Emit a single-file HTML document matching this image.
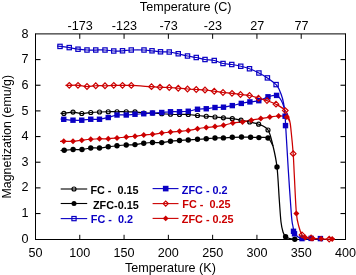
<!DOCTYPE html>
<html><head><meta charset="utf-8"><style>
html,body{margin:0;padding:0;background:#fff;width:356px;height:275px;overflow:hidden}
svg{display:block;will-change:transform}
</style></head><body>
<svg width="356" height="275" viewBox="0 0 356 275">
<rect width="356" height="275" fill="#fff"/>
<path d="M35.5,33.9 H345.5 M345.5,33.4 V240 M345.9,239.5 H35 M35.5,240 V33.4" fill="none" stroke="#000" stroke-width="1"/>
<line x1="79.78" y1="239.5" x2="79.78" y2="234.8" stroke="#000" stroke-width="1"/>
<line x1="79.78" y1="33.9" x2="79.78" y2="38.8" stroke="#000" stroke-width="1"/>
<line x1="124.07" y1="239.5" x2="124.07" y2="234.8" stroke="#000" stroke-width="1"/>
<line x1="124.07" y1="33.9" x2="124.07" y2="38.8" stroke="#000" stroke-width="1"/>
<line x1="168.36" y1="239.5" x2="168.36" y2="234.8" stroke="#000" stroke-width="1"/>
<line x1="168.36" y1="33.9" x2="168.36" y2="38.8" stroke="#000" stroke-width="1"/>
<line x1="212.64" y1="239.5" x2="212.64" y2="234.8" stroke="#000" stroke-width="1"/>
<line x1="212.64" y1="33.9" x2="212.64" y2="38.8" stroke="#000" stroke-width="1"/>
<line x1="256.93" y1="239.5" x2="256.93" y2="234.8" stroke="#000" stroke-width="1"/>
<line x1="256.93" y1="33.9" x2="256.93" y2="38.8" stroke="#000" stroke-width="1"/>
<line x1="301.21" y1="239.5" x2="301.21" y2="234.8" stroke="#000" stroke-width="1"/>
<line x1="301.21" y1="33.9" x2="301.21" y2="38.8" stroke="#000" stroke-width="1"/>
<line x1="35.5" y1="213.54" x2="40.5" y2="213.54" stroke="#000" stroke-width="1.1"/>
<line x1="345.5" y1="213.54" x2="340.5" y2="213.54" stroke="#000" stroke-width="1.1"/>
<line x1="35.5" y1="187.88" x2="40.5" y2="187.88" stroke="#000" stroke-width="1.1"/>
<line x1="345.5" y1="187.88" x2="340.5" y2="187.88" stroke="#000" stroke-width="1.1"/>
<line x1="35.5" y1="162.22" x2="40.5" y2="162.22" stroke="#000" stroke-width="1.1"/>
<line x1="345.5" y1="162.22" x2="340.5" y2="162.22" stroke="#000" stroke-width="1.1"/>
<line x1="35.5" y1="136.56" x2="40.5" y2="136.56" stroke="#000" stroke-width="1.1"/>
<line x1="345.5" y1="136.56" x2="340.5" y2="136.56" stroke="#000" stroke-width="1.1"/>
<line x1="35.5" y1="110.90" x2="40.5" y2="110.90" stroke="#000" stroke-width="1.1"/>
<line x1="345.5" y1="110.90" x2="340.5" y2="110.90" stroke="#000" stroke-width="1.1"/>
<line x1="35.5" y1="85.24" x2="40.5" y2="85.24" stroke="#000" stroke-width="1.1"/>
<line x1="345.5" y1="85.24" x2="340.5" y2="85.24" stroke="#000" stroke-width="1.1"/>
<line x1="35.5" y1="59.58" x2="40.5" y2="59.58" stroke="#000" stroke-width="1.1"/>
<line x1="345.5" y1="59.58" x2="340.5" y2="59.58" stroke="#000" stroke-width="1.1"/>
<text x="28.6" y="242.80" text-anchor="end" font-size="12.6" font-family="Liberation Sans, sans-serif">0</text>
<text x="28.6" y="217.14" text-anchor="end" font-size="12.6" font-family="Liberation Sans, sans-serif">1</text>
<text x="28.6" y="191.48" text-anchor="end" font-size="12.6" font-family="Liberation Sans, sans-serif">2</text>
<text x="28.6" y="165.82" text-anchor="end" font-size="12.6" font-family="Liberation Sans, sans-serif">3</text>
<text x="28.6" y="140.16" text-anchor="end" font-size="12.6" font-family="Liberation Sans, sans-serif">4</text>
<text x="28.6" y="114.50" text-anchor="end" font-size="12.6" font-family="Liberation Sans, sans-serif">5</text>
<text x="28.6" y="88.84" text-anchor="end" font-size="12.6" font-family="Liberation Sans, sans-serif">6</text>
<text x="28.6" y="63.18" text-anchor="end" font-size="12.6" font-family="Liberation Sans, sans-serif">7</text>
<text x="28.6" y="37.52" text-anchor="end" font-size="12.6" font-family="Liberation Sans, sans-serif">8</text>
<text x="35.50" y="256.7" text-anchor="middle" font-size="12.6" font-family="Liberation Sans, sans-serif">50</text>
<text x="79.78" y="256.7" text-anchor="middle" font-size="12.6" font-family="Liberation Sans, sans-serif">100</text>
<text x="124.07" y="256.7" text-anchor="middle" font-size="12.6" font-family="Liberation Sans, sans-serif">150</text>
<text x="168.36" y="256.7" text-anchor="middle" font-size="12.6" font-family="Liberation Sans, sans-serif">200</text>
<text x="212.64" y="256.7" text-anchor="middle" font-size="12.6" font-family="Liberation Sans, sans-serif">250</text>
<text x="256.93" y="256.7" text-anchor="middle" font-size="12.6" font-family="Liberation Sans, sans-serif">300</text>
<text x="301.21" y="256.7" text-anchor="middle" font-size="12.6" font-family="Liberation Sans, sans-serif">350</text>
<text x="345.50" y="256.7" text-anchor="middle" font-size="12.6" font-family="Liberation Sans, sans-serif">400</text>
<text x="80.08" y="30.3" text-anchor="middle" font-size="12.6" font-family="Liberation Sans, sans-serif">-173</text>
<text x="124.37" y="30.3" text-anchor="middle" font-size="12.6" font-family="Liberation Sans, sans-serif">-123</text>
<text x="168.66" y="30.3" text-anchor="middle" font-size="12.6" font-family="Liberation Sans, sans-serif">-73</text>
<text x="212.94" y="30.3" text-anchor="middle" font-size="12.6" font-family="Liberation Sans, sans-serif">-23</text>
<text x="257.23" y="30.3" text-anchor="middle" font-size="12.6" font-family="Liberation Sans, sans-serif">27</text>
<text x="301.51" y="30.3" text-anchor="middle" font-size="12.6" font-family="Liberation Sans, sans-serif">77</text>
<text x="185.7" y="10.6" text-anchor="middle" font-size="12.6" font-family="Liberation Sans, sans-serif">Temperature (C)</text>
<text x="170.4" y="271.8" text-anchor="middle" font-size="12.6" font-family="Liberation Sans, sans-serif">Temperature (K)</text>
<text transform="translate(10.9,136.7) rotate(-90)" x="0" y="0" text-anchor="middle" font-size="12.45" font-family="Liberation Sans, sans-serif">Magnetization (emu/g)</text>
<path d="M60.50,113.30 C61.07,113.32 61.82,113.60 63.90,113.40 C65.98,113.20 70.02,112.08 73.00,112.10 C75.98,112.12 78.84,113.43 81.80,113.50 C84.76,113.57 87.80,112.75 90.75,112.50 C93.70,112.25 96.58,112.12 99.50,112.00 C102.42,111.88 105.33,111.79 108.25,111.75 C111.17,111.71 114.00,111.75 117.00,111.75 C120.00,111.75 123.25,111.72 126.25,111.75 C129.25,111.78 132.08,111.69 135.00,111.90 C137.92,112.11 140.83,112.82 143.75,113.00 C146.67,113.18 149.50,112.88 152.50,113.00 C155.50,113.12 158.75,113.54 161.75,113.75 C164.75,113.96 167.54,114.12 170.50,114.25 C173.46,114.38 176.54,114.46 179.50,114.50 C182.46,114.54 185.25,114.33 188.25,114.50 C191.25,114.67 194.50,115.21 197.50,115.50 C200.50,115.79 203.33,116.00 206.25,116.25 C209.17,116.50 212.14,116.74 215.00,117.00 C217.86,117.26 220.52,117.52 223.40,117.80 C226.28,118.08 229.37,118.30 232.30,118.70 C235.23,119.10 238.10,119.65 241.00,120.20 C243.90,120.75 246.77,121.33 249.70,122.00 C252.63,122.67 255.55,122.87 258.60,124.20 C261.65,125.53 265.60,126.37 268.00,130.00 C270.40,133.63 271.50,139.83 273.00,146.00 C274.50,152.17 275.95,158.00 277.00,167.00 C278.05,176.00 278.63,190.83 279.30,200.00 C279.97,209.17 280.38,216.67 281.00,222.00 C281.62,227.33 282.23,229.55 283.00,232.00 C283.77,234.45 284.43,235.60 285.60,236.70 C286.77,237.80 288.47,238.18 290.00,238.60 C291.53,239.02 294.00,239.10 294.80,239.20" fill="none" stroke="#000000" stroke-width="1.25"/>
<path d="M60.50,150.50 C61.12,150.45 62.10,150.37 64.20,150.20 C66.30,150.03 70.13,149.62 73.10,149.50 C76.07,149.38 79.06,149.75 82.00,149.50 C84.94,149.25 87.83,148.25 90.75,148.00 C93.67,147.75 96.58,148.21 99.50,148.00 C102.42,147.79 105.33,147.12 108.25,146.75 C111.17,146.38 114.00,146.04 117.00,145.75 C120.00,145.46 123.25,145.19 126.25,145.00 C129.25,144.81 132.08,144.89 135.00,144.60 C137.92,144.31 140.83,143.60 143.75,143.25 C146.67,142.90 149.50,142.61 152.50,142.50 C155.50,142.39 158.75,142.81 161.75,142.60 C164.75,142.39 167.54,141.60 170.50,141.25 C173.46,140.90 176.54,140.71 179.50,140.50 C182.46,140.29 185.25,140.21 188.25,140.00 C191.25,139.79 194.50,139.46 197.50,139.25 C200.50,139.04 203.33,138.96 206.25,138.75 C209.17,138.54 212.14,138.14 215.00,138.00 C217.86,137.86 220.52,138.02 223.40,137.90 C226.28,137.78 229.28,137.45 232.30,137.30 C235.32,137.15 238.45,137.00 241.50,137.00 C244.55,137.00 247.70,137.20 250.60,137.30 C253.50,137.40 256.00,137.48 258.90,137.60 C261.80,137.72 265.65,136.60 268.00,138.00 C270.35,139.40 272.17,144.67 273.00,146.00" fill="none" stroke="#000000" stroke-width="1.25"/>
<path d="M57.00,46.00 C57.50,46.07 57.96,46.13 60.00,46.40 C62.04,46.67 66.25,47.13 69.25,47.60 C72.25,48.07 75.04,48.80 78.00,49.20 C80.96,49.60 84.04,49.87 87.00,50.00 C89.96,50.13 92.75,50.00 95.75,50.00 C98.75,50.00 102.00,49.83 105.00,50.00 C108.00,50.17 110.83,50.87 113.75,51.00 C116.67,51.13 119.58,50.97 122.50,50.80 C125.42,50.63 127.67,50.13 131.25,50.00 C134.83,49.87 140.54,49.87 144.00,50.00 C147.46,50.13 149.25,50.50 152.00,50.80 C154.75,51.10 157.62,51.60 160.50,51.80 C163.38,52.00 166.29,51.67 169.25,52.00 C172.21,52.33 175.21,53.08 178.25,53.75 C181.29,54.42 184.50,55.38 187.50,56.00 C190.50,56.62 193.33,56.92 196.25,57.50 C199.17,58.08 202.00,59.00 205.00,59.50 C208.00,60.00 211.25,59.83 214.25,60.50 C217.25,61.17 220.08,62.83 223.00,63.50 C225.92,64.17 228.79,64.04 231.75,64.50 C234.71,64.96 237.79,65.54 240.75,66.25 C243.71,66.96 246.47,67.62 249.50,68.75 C252.53,69.88 255.92,71.47 258.90,73.00 C261.88,74.53 264.53,75.97 267.40,77.90 C270.27,79.83 274.08,82.55 276.10,84.60 C278.12,86.65 278.43,87.88 279.50,90.20 C280.57,92.52 281.70,95.57 282.50,98.50 C283.30,101.43 283.85,104.55 284.30,107.80 C284.75,111.05 284.88,113.47 285.20,118.00 C285.52,122.53 285.68,126.33 286.20,135.00 C286.72,143.67 287.43,156.67 288.30,170.00 C289.17,183.33 290.63,205.67 291.40,215.00 C292.17,224.33 292.38,223.08 292.90,226.00 C293.42,228.92 293.65,230.67 294.50,232.50 C295.35,234.33 296.75,235.98 298.00,237.00 C299.25,238.02 299.83,238.30 302.00,238.60 C304.17,238.90 307.92,238.77 311.00,238.80 C314.08,238.83 318.92,238.80 320.50,238.80" fill="none" stroke="#0a00c4" stroke-width="1.25"/>
<path d="M60.50,119.00 C61.04,119.05 61.67,119.10 63.75,119.30 C65.83,119.50 70.00,120.05 73.00,120.20 C76.00,120.35 78.79,120.36 81.75,120.20 C84.71,120.04 87.79,119.41 90.75,119.25 C93.71,119.09 96.58,119.54 99.50,119.25 C102.42,118.96 105.33,118.21 108.25,117.50 C111.17,116.79 114.00,115.42 117.00,115.00 C120.00,114.58 123.25,115.12 126.25,115.00 C129.25,114.88 132.08,114.46 135.00,114.25 C137.92,114.04 140.83,113.96 143.75,113.75 C146.67,113.54 149.50,113.21 152.50,113.00 C155.50,112.79 158.75,112.71 161.75,112.50 C164.75,112.29 167.54,111.88 170.50,111.75 C173.46,111.62 176.54,111.83 179.50,111.75 C182.46,111.67 185.25,111.67 188.25,111.25 C191.25,110.83 194.50,109.67 197.50,109.25 C200.50,108.83 203.33,109.04 206.25,108.75 C209.17,108.46 212.12,107.76 215.00,107.50 C217.88,107.24 220.62,107.52 223.50,107.20 C226.38,106.88 229.33,106.23 232.30,105.60 C235.27,104.97 238.37,104.02 241.30,103.40 C244.23,102.78 246.98,102.35 249.90,101.90 C252.82,101.45 255.78,101.55 258.80,100.70 C261.82,99.85 265.03,97.68 268.00,96.80 C270.97,95.92 274.43,94.87 276.60,95.40 C278.77,95.93 279.72,97.93 281.00,100.00 C282.28,102.07 283.75,106.50 284.30,107.80" fill="none" stroke="#0a00c4" stroke-width="1.25"/>
<path d="M65.50,85.30 C66.12,85.30 67.17,85.30 69.25,85.30 C71.33,85.30 75.04,85.10 78.00,85.30 C80.96,85.50 84.04,86.42 87.00,86.50 C89.96,86.58 92.75,85.88 95.75,85.75 C98.75,85.62 102.00,85.83 105.00,85.75 C108.00,85.67 110.83,85.38 113.75,85.30 C116.67,85.22 119.58,85.28 122.50,85.30 C125.42,85.32 126.47,85.17 131.30,85.40 C136.13,85.63 146.72,86.40 151.50,86.70 C156.28,87.00 157.04,87.07 160.00,87.20 C162.96,87.33 166.21,87.33 169.25,87.50 C172.29,87.67 175.21,88.00 178.25,88.25 C181.29,88.50 184.50,88.79 187.50,89.00 C190.50,89.21 193.33,89.33 196.25,89.50 C199.17,89.67 202.00,89.71 205.00,90.00 C208.00,90.29 211.25,90.83 214.25,91.25 C217.25,91.67 220.04,92.16 223.00,92.50 C225.96,92.84 229.08,92.97 232.00,93.30 C234.92,93.63 237.58,94.13 240.50,94.50 C243.42,94.87 246.50,94.88 249.50,95.50 C252.50,96.12 255.58,97.35 258.50,98.20 C261.42,99.05 264.08,99.60 267.00,100.60 C269.92,101.60 272.95,102.53 276.00,104.20 C279.05,105.87 283.03,107.88 285.30,110.60 C287.57,113.32 288.62,116.93 289.60,120.50 C290.58,124.07 290.60,126.47 291.20,132.00 C291.80,137.53 292.68,146.53 293.20,153.70 C293.72,160.87 293.77,165.05 294.30,175.00 C294.83,184.95 295.62,204.73 296.40,213.40 C297.18,222.07 298.07,223.42 299.00,227.00 C299.93,230.58 300.92,233.20 302.00,234.90 C303.08,236.60 303.98,236.65 305.50,237.20 C307.02,237.75 308.60,237.93 311.10,238.20 C313.60,238.47 317.48,238.65 320.50,238.80 C323.52,238.95 326.83,239.03 329.20,239.10 C331.57,239.17 333.78,239.18 334.70,239.20" fill="none" stroke="#cc0000" stroke-width="1.25"/>
<path d="M60.00,141.50 C60.62,141.47 61.58,141.33 63.75,141.30 C65.92,141.27 70.00,141.48 73.00,141.30 C76.00,141.12 78.79,140.54 81.75,140.20 C84.71,139.86 87.79,139.49 90.75,139.25 C93.71,139.01 96.58,138.83 99.50,138.75 C102.42,138.67 105.33,138.88 108.25,138.75 C111.17,138.62 114.00,138.29 117.00,138.00 C120.00,137.71 123.25,137.29 126.25,137.00 C129.25,136.71 132.08,136.58 135.00,136.25 C137.92,135.92 140.83,135.33 143.75,135.00 C146.67,134.67 149.50,134.58 152.50,134.25 C155.50,133.92 158.75,133.38 161.75,133.00 C164.75,132.62 167.54,132.29 170.50,132.00 C173.46,131.71 176.54,131.50 179.50,131.25 C182.46,131.00 185.25,130.92 188.25,130.50 C191.25,130.08 194.50,129.25 197.50,128.75 C200.50,128.25 203.33,127.86 206.25,127.50 C209.17,127.14 212.12,126.97 215.00,126.60 C217.88,126.23 220.53,125.90 223.50,125.30 C226.47,124.70 229.63,123.55 232.80,123.00 C235.97,122.45 239.42,122.47 242.50,122.00 C245.58,121.53 248.25,120.77 251.30,120.20 C254.35,119.63 257.72,119.12 260.80,118.60 C263.88,118.08 266.83,117.53 269.80,117.10 C272.77,116.67 275.77,116.03 278.60,116.00 C281.43,115.97 284.97,115.98 286.80,116.90 C288.63,117.82 289.13,120.73 289.60,121.50" fill="none" stroke="#cc0000" stroke-width="1.25"/>
<circle cx="63.90" cy="113.40" r="2.0" fill="none" stroke="#000000" stroke-width="1.2"/>
<circle cx="73.00" cy="112.10" r="2.0" fill="none" stroke="#000000" stroke-width="1.2"/>
<circle cx="81.80" cy="113.50" r="2.0" fill="none" stroke="#000000" stroke-width="1.2"/>
<circle cx="90.75" cy="112.50" r="2.0" fill="none" stroke="#000000" stroke-width="1.2"/>
<circle cx="99.50" cy="112.00" r="2.0" fill="none" stroke="#000000" stroke-width="1.2"/>
<circle cx="108.25" cy="111.75" r="2.0" fill="none" stroke="#000000" stroke-width="1.2"/>
<circle cx="117.00" cy="111.75" r="2.0" fill="none" stroke="#000000" stroke-width="1.2"/>
<circle cx="126.25" cy="111.75" r="2.0" fill="none" stroke="#000000" stroke-width="1.2"/>
<circle cx="135.00" cy="111.90" r="2.0" fill="none" stroke="#000000" stroke-width="1.2"/>
<circle cx="143.75" cy="113.00" r="2.0" fill="none" stroke="#000000" stroke-width="1.2"/>
<circle cx="152.50" cy="113.00" r="2.0" fill="none" stroke="#000000" stroke-width="1.2"/>
<circle cx="161.75" cy="113.75" r="2.0" fill="none" stroke="#000000" stroke-width="1.2"/>
<circle cx="170.50" cy="114.25" r="2.0" fill="none" stroke="#000000" stroke-width="1.2"/>
<circle cx="179.50" cy="114.50" r="2.0" fill="none" stroke="#000000" stroke-width="1.2"/>
<circle cx="188.25" cy="114.50" r="2.0" fill="none" stroke="#000000" stroke-width="1.2"/>
<circle cx="197.50" cy="115.50" r="2.0" fill="none" stroke="#000000" stroke-width="1.2"/>
<circle cx="206.25" cy="116.25" r="2.0" fill="none" stroke="#000000" stroke-width="1.2"/>
<circle cx="215.00" cy="117.00" r="2.0" fill="none" stroke="#000000" stroke-width="1.2"/>
<circle cx="223.40" cy="117.80" r="2.0" fill="none" stroke="#000000" stroke-width="1.2"/>
<circle cx="232.30" cy="118.70" r="2.0" fill="none" stroke="#000000" stroke-width="1.2"/>
<circle cx="241.00" cy="120.20" r="2.0" fill="none" stroke="#000000" stroke-width="1.2"/>
<circle cx="249.70" cy="122.00" r="2.0" fill="none" stroke="#000000" stroke-width="1.2"/>
<circle cx="258.60" cy="124.20" r="2.0" fill="none" stroke="#000000" stroke-width="1.2"/>
<circle cx="268.00" cy="130.00" r="2.0" fill="none" stroke="#000000" stroke-width="1.2"/>
<circle cx="64.20" cy="150.20" r="2.7" fill="#000000"/>
<circle cx="73.10" cy="149.50" r="2.7" fill="#000000"/>
<circle cx="82.00" cy="149.50" r="2.7" fill="#000000"/>
<circle cx="90.75" cy="148.00" r="2.7" fill="#000000"/>
<circle cx="99.50" cy="148.00" r="2.7" fill="#000000"/>
<circle cx="108.25" cy="146.75" r="2.7" fill="#000000"/>
<circle cx="117.00" cy="145.75" r="2.7" fill="#000000"/>
<circle cx="126.25" cy="145.00" r="2.7" fill="#000000"/>
<circle cx="135.00" cy="144.60" r="2.7" fill="#000000"/>
<circle cx="143.75" cy="143.25" r="2.7" fill="#000000"/>
<circle cx="152.50" cy="142.50" r="2.7" fill="#000000"/>
<circle cx="161.75" cy="142.60" r="2.7" fill="#000000"/>
<circle cx="170.50" cy="141.25" r="2.7" fill="#000000"/>
<circle cx="179.50" cy="140.50" r="2.7" fill="#000000"/>
<circle cx="188.25" cy="140.00" r="2.7" fill="#000000"/>
<circle cx="197.50" cy="139.25" r="2.7" fill="#000000"/>
<circle cx="206.25" cy="138.75" r="2.7" fill="#000000"/>
<circle cx="215.00" cy="138.00" r="2.7" fill="#000000"/>
<circle cx="223.40" cy="137.90" r="2.7" fill="#000000"/>
<circle cx="232.30" cy="137.30" r="2.7" fill="#000000"/>
<circle cx="241.50" cy="137.00" r="2.7" fill="#000000"/>
<circle cx="250.60" cy="137.30" r="2.7" fill="#000000"/>
<circle cx="258.90" cy="137.60" r="2.7" fill="#000000"/>
<circle cx="268.00" cy="138.00" r="2.7" fill="#000000"/>
<circle cx="277.00" cy="167.00" r="2.7" fill="#000000"/>
<circle cx="285.60" cy="236.70" r="2.7" fill="#000000"/>
<circle cx="294.80" cy="239.20" r="2.7" fill="#000000"/>
<rect x="57.85" y="44.25" width="4.3" height="4.3" fill="none" stroke="#0a00c4" stroke-width="1.2"/>
<rect x="67.10" y="45.45" width="4.3" height="4.3" fill="none" stroke="#0a00c4" stroke-width="1.2"/>
<rect x="75.85" y="47.05" width="4.3" height="4.3" fill="none" stroke="#0a00c4" stroke-width="1.2"/>
<rect x="84.85" y="47.85" width="4.3" height="4.3" fill="none" stroke="#0a00c4" stroke-width="1.2"/>
<rect x="93.60" y="47.85" width="4.3" height="4.3" fill="none" stroke="#0a00c4" stroke-width="1.2"/>
<rect x="102.85" y="47.85" width="4.3" height="4.3" fill="none" stroke="#0a00c4" stroke-width="1.2"/>
<rect x="111.60" y="48.85" width="4.3" height="4.3" fill="none" stroke="#0a00c4" stroke-width="1.2"/>
<rect x="120.35" y="48.65" width="4.3" height="4.3" fill="none" stroke="#0a00c4" stroke-width="1.2"/>
<rect x="129.10" y="47.85" width="4.3" height="4.3" fill="none" stroke="#0a00c4" stroke-width="1.2"/>
<rect x="141.85" y="47.85" width="4.3" height="4.3" fill="none" stroke="#0a00c4" stroke-width="1.2"/>
<rect x="149.85" y="48.65" width="4.3" height="4.3" fill="none" stroke="#0a00c4" stroke-width="1.2"/>
<rect x="158.35" y="49.65" width="4.3" height="4.3" fill="none" stroke="#0a00c4" stroke-width="1.2"/>
<rect x="167.10" y="49.85" width="4.3" height="4.3" fill="none" stroke="#0a00c4" stroke-width="1.2"/>
<rect x="176.10" y="51.60" width="4.3" height="4.3" fill="none" stroke="#0a00c4" stroke-width="1.2"/>
<rect x="185.35" y="53.85" width="4.3" height="4.3" fill="none" stroke="#0a00c4" stroke-width="1.2"/>
<rect x="194.10" y="55.35" width="4.3" height="4.3" fill="none" stroke="#0a00c4" stroke-width="1.2"/>
<rect x="202.85" y="57.35" width="4.3" height="4.3" fill="none" stroke="#0a00c4" stroke-width="1.2"/>
<rect x="212.10" y="58.35" width="4.3" height="4.3" fill="none" stroke="#0a00c4" stroke-width="1.2"/>
<rect x="220.85" y="61.35" width="4.3" height="4.3" fill="none" stroke="#0a00c4" stroke-width="1.2"/>
<rect x="229.60" y="62.35" width="4.3" height="4.3" fill="none" stroke="#0a00c4" stroke-width="1.2"/>
<rect x="238.60" y="64.10" width="4.3" height="4.3" fill="none" stroke="#0a00c4" stroke-width="1.2"/>
<rect x="247.35" y="66.60" width="4.3" height="4.3" fill="none" stroke="#0a00c4" stroke-width="1.2"/>
<rect x="256.75" y="70.85" width="4.3" height="4.3" fill="none" stroke="#0a00c4" stroke-width="1.2"/>
<rect x="265.25" y="75.75" width="4.3" height="4.3" fill="none" stroke="#0a00c4" stroke-width="1.2"/>
<rect x="273.95" y="82.45" width="4.3" height="4.3" fill="none" stroke="#0a00c4" stroke-width="1.2"/>
<rect x="61.05" y="116.60" width="5.4" height="5.4" fill="#0a00c4"/>
<rect x="70.30" y="117.50" width="5.4" height="5.4" fill="#0a00c4"/>
<rect x="79.05" y="117.50" width="5.4" height="5.4" fill="#0a00c4"/>
<rect x="88.05" y="116.55" width="5.4" height="5.4" fill="#0a00c4"/>
<rect x="96.80" y="116.55" width="5.4" height="5.4" fill="#0a00c4"/>
<rect x="105.55" y="114.80" width="5.4" height="5.4" fill="#0a00c4"/>
<rect x="114.30" y="112.30" width="5.4" height="5.4" fill="#0a00c4"/>
<rect x="123.55" y="112.30" width="5.4" height="5.4" fill="#0a00c4"/>
<rect x="132.30" y="111.55" width="5.4" height="5.4" fill="#0a00c4"/>
<rect x="141.05" y="111.05" width="5.4" height="5.4" fill="#0a00c4"/>
<rect x="149.80" y="110.30" width="5.4" height="5.4" fill="#0a00c4"/>
<rect x="159.05" y="109.80" width="5.4" height="5.4" fill="#0a00c4"/>
<rect x="167.80" y="109.05" width="5.4" height="5.4" fill="#0a00c4"/>
<rect x="176.80" y="109.05" width="5.4" height="5.4" fill="#0a00c4"/>
<rect x="185.55" y="108.55" width="5.4" height="5.4" fill="#0a00c4"/>
<rect x="194.80" y="106.55" width="5.4" height="5.4" fill="#0a00c4"/>
<rect x="203.55" y="106.05" width="5.4" height="5.4" fill="#0a00c4"/>
<rect x="212.30" y="104.80" width="5.4" height="5.4" fill="#0a00c4"/>
<rect x="220.80" y="104.50" width="5.4" height="5.4" fill="#0a00c4"/>
<rect x="229.60" y="102.90" width="5.4" height="5.4" fill="#0a00c4"/>
<rect x="238.60" y="100.70" width="5.4" height="5.4" fill="#0a00c4"/>
<rect x="247.20" y="99.20" width="5.4" height="5.4" fill="#0a00c4"/>
<rect x="256.10" y="98.00" width="5.4" height="5.4" fill="#0a00c4"/>
<rect x="265.30" y="94.10" width="5.4" height="5.4" fill="#0a00c4"/>
<rect x="273.90" y="92.70" width="5.4" height="5.4" fill="#0a00c4"/>
<rect x="282.40" y="113.50" width="5.4" height="5.4" fill="#0a00c4"/>
<rect x="282.80" y="122.90" width="5.4" height="5.4" fill="#0a00c4"/>
<rect x="290.80" y="228.60" width="5.4" height="5.4" fill="#0a00c4"/>
<rect x="291.80" y="231.10" width="5.4" height="5.4" fill="#0a00c4"/>
<rect x="299.30" y="235.90" width="5.4" height="5.4" fill="#0a00c4"/>
<rect x="308.40" y="235.70" width="5.4" height="5.4" fill="#0a00c4"/>
<rect x="317.70" y="235.90" width="5.4" height="5.4" fill="#0a00c4"/>
<path d="M66.45,85.30 L69.25,82.50 L72.05,85.30 L69.25,88.10 Z" fill="none" stroke="#cc0000" stroke-width="1.2"/>
<path d="M75.20,85.30 L78.00,82.50 L80.80,85.30 L78.00,88.10 Z" fill="none" stroke="#cc0000" stroke-width="1.2"/>
<path d="M84.20,86.50 L87.00,83.70 L89.80,86.50 L87.00,89.30 Z" fill="none" stroke="#cc0000" stroke-width="1.2"/>
<path d="M92.95,85.75 L95.75,82.95 L98.55,85.75 L95.75,88.55 Z" fill="none" stroke="#cc0000" stroke-width="1.2"/>
<path d="M102.20,85.75 L105.00,82.95 L107.80,85.75 L105.00,88.55 Z" fill="none" stroke="#cc0000" stroke-width="1.2"/>
<path d="M110.95,85.30 L113.75,82.50 L116.55,85.30 L113.75,88.10 Z" fill="none" stroke="#cc0000" stroke-width="1.2"/>
<path d="M119.70,85.30 L122.50,82.50 L125.30,85.30 L122.50,88.10 Z" fill="none" stroke="#cc0000" stroke-width="1.2"/>
<path d="M128.50,85.40 L131.30,82.60 L134.10,85.40 L131.30,88.20 Z" fill="none" stroke="#cc0000" stroke-width="1.2"/>
<path d="M148.70,86.70 L151.50,83.90 L154.30,86.70 L151.50,89.50 Z" fill="none" stroke="#cc0000" stroke-width="1.2"/>
<path d="M157.20,87.20 L160.00,84.40 L162.80,87.20 L160.00,90.00 Z" fill="none" stroke="#cc0000" stroke-width="1.2"/>
<path d="M166.45,87.50 L169.25,84.70 L172.05,87.50 L169.25,90.30 Z" fill="none" stroke="#cc0000" stroke-width="1.2"/>
<path d="M175.45,88.25 L178.25,85.45 L181.05,88.25 L178.25,91.05 Z" fill="none" stroke="#cc0000" stroke-width="1.2"/>
<path d="M184.70,89.00 L187.50,86.20 L190.30,89.00 L187.50,91.80 Z" fill="none" stroke="#cc0000" stroke-width="1.2"/>
<path d="M193.45,89.50 L196.25,86.70 L199.05,89.50 L196.25,92.30 Z" fill="none" stroke="#cc0000" stroke-width="1.2"/>
<path d="M202.20,90.00 L205.00,87.20 L207.80,90.00 L205.00,92.80 Z" fill="none" stroke="#cc0000" stroke-width="1.2"/>
<path d="M211.45,91.25 L214.25,88.45 L217.05,91.25 L214.25,94.05 Z" fill="none" stroke="#cc0000" stroke-width="1.2"/>
<path d="M220.20,92.50 L223.00,89.70 L225.80,92.50 L223.00,95.30 Z" fill="none" stroke="#cc0000" stroke-width="1.2"/>
<path d="M229.20,93.30 L232.00,90.50 L234.80,93.30 L232.00,96.10 Z" fill="none" stroke="#cc0000" stroke-width="1.2"/>
<path d="M237.70,94.50 L240.50,91.70 L243.30,94.50 L240.50,97.30 Z" fill="none" stroke="#cc0000" stroke-width="1.2"/>
<path d="M246.70,95.50 L249.50,92.70 L252.30,95.50 L249.50,98.30 Z" fill="none" stroke="#cc0000" stroke-width="1.2"/>
<path d="M255.70,98.20 L258.50,95.40 L261.30,98.20 L258.50,101.00 Z" fill="none" stroke="#cc0000" stroke-width="1.2"/>
<path d="M264.20,100.60 L267.00,97.80 L269.80,100.60 L267.00,103.40 Z" fill="none" stroke="#cc0000" stroke-width="1.2"/>
<path d="M273.20,104.20 L276.00,101.40 L278.80,104.20 L276.00,107.00 Z" fill="none" stroke="#cc0000" stroke-width="1.2"/>
<path d="M282.50,110.60 L285.30,107.80 L288.10,110.60 L285.30,113.40 Z" fill="none" stroke="#cc0000" stroke-width="1.2"/>
<path d="M290.40,153.70 L293.20,150.90 L296.00,153.70 L293.20,156.50 Z" fill="none" stroke="#cc0000" stroke-width="1.2"/>
<path d="M299.20,234.90 L302.00,232.10 L304.80,234.90 L302.00,237.70 Z" fill="none" stroke="#cc0000" stroke-width="1.2"/>
<path d="M308.30,237.90 L311.10,235.10 L313.90,237.90 L311.10,240.70 Z" fill="none" stroke="#cc0000" stroke-width="1.2"/>
<path d="M326.40,239.10 L329.20,236.30 L332.00,239.10 L329.20,241.90 Z" fill="none" stroke="#cc0000" stroke-width="1.2"/>
<path d="M60.75,141.30 L63.75,138.30 L66.75,141.30 L63.75,144.30 Z" fill="#cc0000"/>
<path d="M70.00,141.30 L73.00,138.30 L76.00,141.30 L73.00,144.30 Z" fill="#cc0000"/>
<path d="M78.75,140.20 L81.75,137.20 L84.75,140.20 L81.75,143.20 Z" fill="#cc0000"/>
<path d="M87.75,139.25 L90.75,136.25 L93.75,139.25 L90.75,142.25 Z" fill="#cc0000"/>
<path d="M96.50,138.75 L99.50,135.75 L102.50,138.75 L99.50,141.75 Z" fill="#cc0000"/>
<path d="M105.25,138.75 L108.25,135.75 L111.25,138.75 L108.25,141.75 Z" fill="#cc0000"/>
<path d="M114.00,138.00 L117.00,135.00 L120.00,138.00 L117.00,141.00 Z" fill="#cc0000"/>
<path d="M123.25,137.00 L126.25,134.00 L129.25,137.00 L126.25,140.00 Z" fill="#cc0000"/>
<path d="M132.00,136.25 L135.00,133.25 L138.00,136.25 L135.00,139.25 Z" fill="#cc0000"/>
<path d="M140.75,135.00 L143.75,132.00 L146.75,135.00 L143.75,138.00 Z" fill="#cc0000"/>
<path d="M149.50,134.25 L152.50,131.25 L155.50,134.25 L152.50,137.25 Z" fill="#cc0000"/>
<path d="M158.75,133.00 L161.75,130.00 L164.75,133.00 L161.75,136.00 Z" fill="#cc0000"/>
<path d="M167.50,132.00 L170.50,129.00 L173.50,132.00 L170.50,135.00 Z" fill="#cc0000"/>
<path d="M176.50,131.25 L179.50,128.25 L182.50,131.25 L179.50,134.25 Z" fill="#cc0000"/>
<path d="M185.25,130.50 L188.25,127.50 L191.25,130.50 L188.25,133.50 Z" fill="#cc0000"/>
<path d="M194.50,128.75 L197.50,125.75 L200.50,128.75 L197.50,131.75 Z" fill="#cc0000"/>
<path d="M203.25,127.50 L206.25,124.50 L209.25,127.50 L206.25,130.50 Z" fill="#cc0000"/>
<path d="M212.00,126.60 L215.00,123.60 L218.00,126.60 L215.00,129.60 Z" fill="#cc0000"/>
<path d="M220.50,125.30 L223.50,122.30 L226.50,125.30 L223.50,128.30 Z" fill="#cc0000"/>
<path d="M229.80,123.00 L232.80,120.00 L235.80,123.00 L232.80,126.00 Z" fill="#cc0000"/>
<path d="M239.50,122.00 L242.50,119.00 L245.50,122.00 L242.50,125.00 Z" fill="#cc0000"/>
<path d="M248.30,120.20 L251.30,117.20 L254.30,120.20 L251.30,123.20 Z" fill="#cc0000"/>
<path d="M257.80,118.60 L260.80,115.60 L263.80,118.60 L260.80,121.60 Z" fill="#cc0000"/>
<path d="M266.80,117.10 L269.80,114.10 L272.80,117.10 L269.80,120.10 Z" fill="#cc0000"/>
<path d="M275.60,116.00 L278.60,113.00 L281.60,116.00 L278.60,119.00 Z" fill="#cc0000"/>
<path d="M283.80,116.90 L286.80,113.90 L289.80,116.90 L286.80,119.90 Z" fill="#cc0000"/>
<path d="M293.40,213.40 L296.40,210.40 L299.40,213.40 L296.40,216.40 Z" fill="#cc0000"/>
<path d="M302.20,237.40 L305.20,234.40 L308.20,237.40 L305.20,240.40 Z" fill="#cc0000"/>
<path d="M309.80,238.60 L312.80,235.60 L315.80,238.60 L312.80,241.60 Z" fill="#cc0000"/>
<path d="M318.20,238.80 L321.20,235.80 L324.20,238.80 L321.20,241.80 Z" fill="#cc0000"/>
<path d="M329.20,239.10 L332.20,236.10 L335.20,239.10 L332.20,242.10 Z" fill="#cc0000"/>
<line x1="60.7" y1="189.0" x2="87.2" y2="189.0" stroke="#000000" stroke-width="1.1"/>
<circle cx="74.00" cy="189.00" r="2.0" fill="none" stroke="#000000" stroke-width="1.2"/>
<text x="90.4" y="193.9" fill="#000000" font-family="Liberation Sans, sans-serif" font-weight="bold" font-size="10.85" xml:space="preserve">FC -  0.15</text>
<line x1="60.7" y1="203.5" x2="87.2" y2="203.5" stroke="#000000" stroke-width="1.1"/>
<circle cx="74.00" cy="203.50" r="2.5" fill="#000000"/>
<text x="93.0" y="209.0" fill="#000000" font-family="Liberation Sans, sans-serif" font-weight="bold" font-size="10.85" xml:space="preserve">ZFC-0.15</text>
<line x1="60.7" y1="218.6" x2="87.2" y2="218.6" stroke="#0a00c4" stroke-width="1.1"/>
<rect x="71.90" y="216.50" width="4.2" height="4.2" fill="none" stroke="#0a00c4" stroke-width="1.2"/>
<text x="90.8" y="223.1" fill="#0a00c4" font-family="Liberation Sans, sans-serif" font-weight="bold" font-size="10.85" xml:space="preserve">FC -  0.2</text>
<line x1="152.6" y1="188.6" x2="178.5" y2="188.6" stroke="#0a00c4" stroke-width="1.1"/>
<rect x="162.90" y="185.80" width="5.6" height="5.6" fill="#0a00c4"/>
<text x="181.8" y="193.5" fill="#0a00c4" font-family="Liberation Sans, sans-serif" font-weight="bold" font-size="10.85" xml:space="preserve">ZFC - 0.2</text>
<line x1="152.6" y1="203.6" x2="178.5" y2="203.6" stroke="#cc0000" stroke-width="1.1"/>
<path d="M163.10,203.60 L165.70,201.00 L168.30,203.60 L165.70,206.20 Z" fill="none" stroke="#cc0000" stroke-width="1.2"/>
<text x="182.3" y="208.0" fill="#cc0000" font-family="Liberation Sans, sans-serif" font-weight="bold" font-size="10.85" xml:space="preserve">FC -  0.25</text>
<line x1="152.6" y1="218.4" x2="178.5" y2="218.4" stroke="#cc0000" stroke-width="1.1"/>
<path d="M162.80,218.40 L165.70,215.50 L168.60,218.40 L165.70,221.30 Z" fill="#cc0000"/>
<text x="181.8" y="223.3" fill="#cc0000" font-family="Liberation Sans, sans-serif" font-weight="bold" font-size="10.85" xml:space="preserve">ZFC - 0.25</text>
</svg>
</body></html>
